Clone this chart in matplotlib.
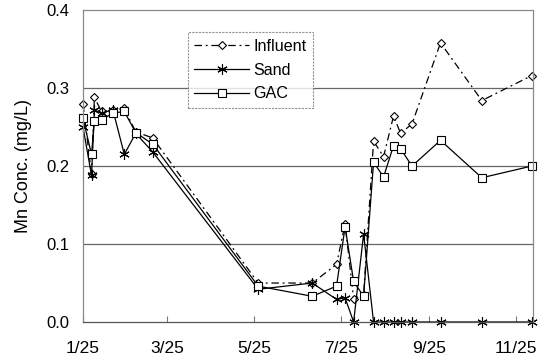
import matplotlib
matplotlib.use("Agg")
import matplotlib.pyplot as plt
import pandas as pd

plt.rcParams['font.family'] = ['Liberation Sans', 'DejaVu Sans']

# sampling dates (month/day), one year
dates = ["1/25", "1/31", "2/2", "2/7", "2/15", "2/23", "3/3", "3/15",
         "5/28", "7/5", "7/22", "7/28", "8/3", "8/10", "8/17", "8/24",
         "8/31", "9/5", "9/13", "10/3", "11/1", "12/6"]

influent = [0.279, 0.190, 0.288, 0.270, 0.272, 0.274, 0.244, 0.236,
            0.050, 0.050, 0.074, 0.126, 0.030, 0.035, 0.232, 0.212,
            0.264, 0.242, 0.254, 0.358, 0.284, 0.316]
sand = [0.250, 0.188, 0.272, 0.268, 0.272, 0.215, 0.242, 0.218,
        0.042, 0.050, 0.029, 0.031, 0.000, 0.113, 0.000, 0.000,
        0.000, 0.000, 0.000, 0.000, 0.000, 0.000]
gac = [0.261, 0.215, 0.258, 0.259, 0.268, 0.270, 0.243, 0.228,
       0.046, 0.033, 0.046, 0.122, 0.052, 0.033, 0.205, 0.186,
       0.226, 0.222, 0.200, 0.233, 0.185, 0.200]

tick_labels = ["1/25", "3/25", "5/25", "7/25", "9/25", "11/25"]

def to_dt(md):
    return pd.to_datetime("2001/" + md, format="%Y/%m/%d")

x = [to_dt(d) for d in dates]

fig = plt.figure(figsize=(5.41, 3.61), dpi=100)
ax = fig.add_axes([0.1534, 0.108, 0.832, 0.864])

ax.plot(x, influent, color='black', linestyle=(0, (6, 3, 1.5, 3)), linewidth=0.9,
        marker='D', markersize=4.5, markerfacecolor='white', markeredgewidth=0.8,
        label='Influent', clip_on=False)
ax.plot(x, sand, color='black', linestyle='-', linewidth=0.9,
        marker=(6, 2, 0), markersize=7.5, markeredgewidth=0.8,
        label='Sand', clip_on=False)
ax.plot(x, gac, color='black', linestyle='-', linewidth=0.9,
        marker='s', markersize=5.2, markerfacecolor='white', markeredgewidth=0.8,
        label='GAC', clip_on=False)

ax.set_ylim(0, 0.4)
ax.set_yticks([0.0, 0.1, 0.2, 0.3, 0.4])
ax.set_yticklabels(["0.0", "0.1", "0.2", "0.3", "0.4"])
for yv in [0.1, 0.2, 0.3]:
    ax.axhline(yv, color='#666666', linewidth=0.9, zorder=0)

ax.set_xlim(to_dt("1/25"), to_dt("12/7"))
ax.set_xticks([to_dt(t) for t in tick_labels])
ax.set_xticklabels(tick_labels)

ax.tick_params(axis='x', direction='in', length=4, labelsize=12.5, pad=14, color='#777777')
ax.tick_params(axis='y', length=0, labelsize=12, pad=10)

for s in ax.spines.values():
    s.set_color('#888888')
    s.set_linewidth(0.9)
    s.set_linestyle((0, (2, 1)))
ax.spines['bottom'].set_linestyle('-')
ax.spines['bottom'].set_color('#555555')

ax.set_ylabel("Mn Conc. (mg/L)", fontsize=13, labelpad=10)

leg = ax.legend(loc='upper left', bbox_to_anchor=(0.233, 0.929), fontsize=11.6,
                frameon=True, fancybox=False, handlelength=3.4,
                borderpad=0.4, labelspacing=0.55, handletextpad=0.25,
                borderaxespad=0)
leg.get_frame().set_edgecolor('#777777')
leg.get_frame().set_linestyle((0, (2, 1)))
leg.get_frame().set_linewidth(0.8)

fig.savefig("out.png", dpi=100)
